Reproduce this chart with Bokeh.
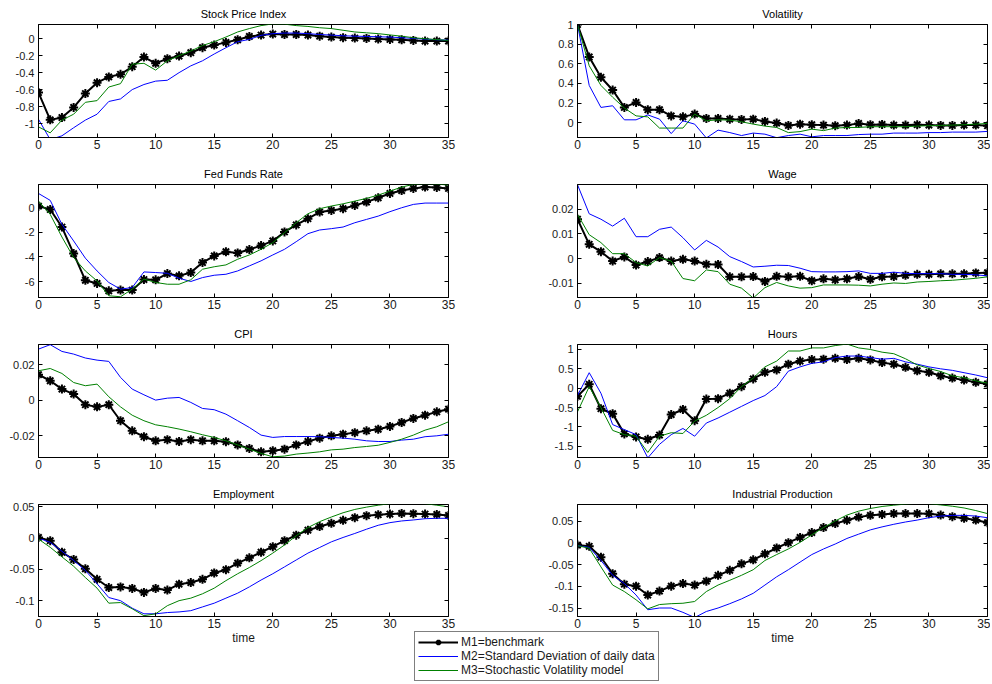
from bokeh.plotting import figure
from bokeh.layouts import column, row
from bokeh.models import Range1d, FixedTicker, LinearAxis, Legend, LegendItem
from bokeh.embed import file_html
from bokeh.resources import INLINE

# ---------------- data ----------------
t = list(range(36))
x_ticks = [0, 5, 10, 15, 20, 25, 30, 35]
x_tick_labels = ["0", "5", "10", "15", "20", "25", "30", "35"]

titles = ["Stock Price Index", "Volatility", "Fed Funds Rate", "Wage",
          "CPI", "Hours", "Employment", "Industrial Production"]
legend_labels = ["M1=benchmark", "M2=Standard Deviation of daily data",
                 "M3=Stochastic Volatility model"]
x_label = "time"

stock_m1 = [-0.635, -0.957, -0.93, -0.81, -0.647, -0.518, -0.45, -0.42, -0.33, -0.216, -0.29, -0.235,
            -0.204, -0.165, -0.106, -0.075, -0.043, -0.012, 0.027, 0.043, 0.055, 0.05, 0.05, 0.043,
            0.03, 0.02, 0.012, 0.008, 0.004, -0.004, -0.008, -0.012, -0.02, -0.027, -0.027, -0.027]
stock_m2 = [-0.95, -1.19, -1.145, -1.05, -0.96, -0.89, -0.74, -0.71, -0.6, -0.54, -0.5, -0.49,
            -0.4, -0.32, -0.26, -0.18, -0.106, -0.035, -0.008, 0.04, 0.06, 0.067, 0.067, 0.06,
            0.05, 0.043, 0.035, 0.03, 0.027, 0.023, 0.02, 0.012, 0.004, -0.004, -0.012, -0.016]
stock_m3 = [-1.04, -1.11, -0.96, -0.89, -0.75, -0.73, -0.57, -0.53, -0.30, -0.29, -0.37, -0.26,
            -0.2, -0.145, -0.08, -0.035, 0.02, 0.08, 0.12, 0.155, 0.175, 0.172, 0.155, 0.145,
            0.13, 0.12, 0.10, 0.08, 0.07, 0.06, 0.045, 0.03, 0.012, 0.0, -0.01, -0.02]

vol_m1 = [1.0, 0.67, 0.463, 0.333, 0.156, 0.207, 0.133, 0.133, 0.07, 0.06, 0.088, 0.044,
          0.044, 0.037, 0.034, 0.037, 0.014, -0.003, -0.027, -0.014, -0.02, -0.024, -0.03, -0.024,
          -0.007, -0.02, -0.017, -0.024, -0.024, -0.02, -0.024, -0.027, -0.027, -0.024, -0.024, -0.03]
vol_m2 = [1.0, 0.38, 0.156, 0.173, 0.03, 0.03, 0.08, 0.037, -0.11, 0.02, -0.014, -0.155,
          -0.075, -0.1, -0.13, -0.105, -0.116, -0.152, -0.13, -0.116, -0.143, -0.13, -0.13, -0.13,
          -0.12, -0.116, -0.116, -0.105, -0.105, -0.105, -0.1, -0.1, -0.095, -0.095, -0.095, -0.088]
vol_m3 = [1.0, 0.58, 0.38, 0.26, 0.15, 0.07, 0.06, -0.054, -0.054, -0.054, 0.088, 0.02,
          0.03, 0.027, 0.01, -0.014, -0.034, -0.048, -0.10, -0.09, -0.065, -0.08, -0.054, -0.048,
          -0.048, -0.04, -0.04, -0.04, -0.04, -0.034, -0.03, -0.027, -0.024, -0.02, -0.014, -0.007]

ffr_m1 = [0.13, -0.14, -1.57, -3.73, -5.9, -6.16, -6.76, -6.7, -6.7, -5.84, -5.86, -5.35,
          -5.54, -5.27, -4.46, -3.92, -3.57, -3.68, -3.4, -3.08, -2.7, -1.97, -1.4, -0.89,
          -0.35, -0.22, -0.08, 0.19, 0.46, 0.81, 1.16, 1.4, 1.57, 1.68, 1.65, 1.57]
ffr_m2 = [1.16, 0.6, -1.35, -2.7, -4.1, -5.14, -6.08, -6.62, -6.49, -5.22, -5.27, -5.33,
          -5.73, -6.0, -5.68, -5.49, -5.41, -5.14, -4.73, -4.32, -3.84, -3.38, -2.76, -2.11,
          -1.81, -1.7, -1.57, -1.22, -0.95, -0.68, -0.32, 0.0, 0.27, 0.38, 0.38, 0.38]
ffr_m3 = [0.54, -0.54, -2.38, -4.05, -5.14, -5.95, -7.16, -7.24, -6.62, -5.8, -6.08, -6.22,
          -6.22, -5.86, -5.0, -4.8, -4.65, -4.19, -3.84, -3.38, -2.84, -2.03, -1.22, -0.49,
          -0.08, 0.14, 0.32, 0.54, 0.76, 1.03, 1.35, 1.68, 1.9, 1.95, 1.92, 1.85]

wage_m1 = [0.016, 0.0058, 0.0028, -0.001, 0.0007, -0.0026, -0.0012, 0.0004, -0.001, -0.0003, -0.001, -0.0023,
           -0.0024, -0.0074, -0.0074, -0.0073, -0.0093, -0.0072, -0.0074, -0.0072, -0.009, -0.0082, -0.0086, -0.0082,
           -0.0073, -0.0084, -0.0074, -0.0073, -0.0068, -0.0064, -0.0064, -0.0062, -0.0062, -0.0062, -0.0058, -0.0057]
wage_m2 = [0.030, 0.0182, 0.016, 0.0132, 0.0164, 0.0089, 0.0089, 0.0119, 0.0128, 0.0085, 0.0035, 0.0074,
           0.0047, 0.0008, -0.0012, -0.0034, -0.0031, -0.0027, -0.0028, -0.0039, -0.0053, -0.0054, -0.0054, -0.0053,
           -0.005, -0.006, -0.006, -0.0055, -0.006, -0.0061, -0.0061, -0.0061, -0.0064, -0.0064, -0.0066, -0.007]
wage_m3 = [0.018, 0.0097, 0.0065, 0.002, 0.002, -0.0016, -0.003, 0.0004, -0.001, -0.0081, -0.009, -0.0046,
           -0.0053, -0.0104, -0.012, -0.0160, -0.0118, -0.0097, -0.0111, -0.012, -0.0118, -0.0107, -0.0107, -0.0107,
           -0.0108, -0.0111, -0.0104, -0.0099, -0.0101, -0.0095, -0.0093, -0.009, -0.0088, -0.0084, -0.008, -0.0074]

cpi_m1 = [0.0143, 0.0109, 0.0062, 0.0034, -0.0026, -0.0038, -0.0026, -0.0116, -0.0173, -0.0206, -0.0229, -0.0223,
          -0.0233, -0.0223, -0.0229, -0.0229, -0.0234, -0.0252, -0.0272, -0.0291, -0.0285, -0.0276, -0.0252, -0.0233,
          -0.0214, -0.0201, -0.0192, -0.0183, -0.0173, -0.0164, -0.0148, -0.0126, -0.0103, -0.0085, -0.0066, -0.0051]
cpi_m2 = [0.0287, 0.0312, 0.0274, 0.0259, 0.0237, 0.0225, 0.0218, 0.0128, 0.0062, 0.003, 0.0, 0.0011,
          0.0015, -0.0013, -0.0047, -0.0054, -0.0079, -0.0116, -0.0154, -0.0197, -0.021, -0.0205, -0.0205, -0.0205,
          -0.0206, -0.021, -0.0214, -0.022, -0.0229, -0.0233, -0.0233, -0.0225, -0.022, -0.0206, -0.0201, -0.0192]
cpi_m3 = [0.0165, 0.0178, 0.015, 0.0099, 0.0081, 0.009, 0.0019, -0.0038, -0.0085, -0.0116, -0.0139, -0.015,
          -0.0163, -0.0178, -0.0195, -0.021, -0.0229, -0.0252, -0.0276, -0.03, -0.0319, -0.0315, -0.0304, -0.0298,
          -0.0291, -0.028, -0.0276, -0.0267, -0.0261, -0.0254, -0.0238, -0.022, -0.0197, -0.0169, -0.015, -0.0122]

hours_m1 = [-0.21, 0.1, -0.53, -0.66, -1.18, -1.26, -1.32, -1.21, -0.68, -0.55, -0.84, -0.28,
            -0.27, -0.13, 0.04, 0.24, 0.41, 0.47, 0.62, 0.70, 0.74, 0.75, 0.77, 0.74,
            0.77, 0.73, 0.66, 0.62, 0.54, 0.45, 0.41, 0.32, 0.26, 0.21, 0.15, 0.11]
hours_m2 = [-0.19, 0.4, -0.13, -0.94, -1.07, -1.2, -1.8, -1.45, -1.2, -1.04, -1.24, -0.9,
            -0.77, -0.62, -0.47, -0.32, -0.19, 0.04, 0.44, 0.55, 0.64, 0.68, 0.79, 0.83,
            0.83, 0.79, 0.75, 0.77, 0.68, 0.62, 0.55, 0.5, 0.46, 0.4, 0.34, 0.27]
hours_m3 = [-0.61, 0.04, -0.5, -1.09, -1.2, -1.24, -1.66, -1.24, -1.15, -1.17, -0.85, -0.7,
            -0.5, -0.27, 0.04, 0.26, 0.55, 0.7, 0.96, 0.96, 1.04, 1.04, 1.1, 1.14,
            1.04, 1.0, 0.93, 0.89, 0.76, 0.6, 0.51, 0.43, 0.32, 0.27, 0.19, 0.13]

emp_m1 = [0.001, -0.0042, -0.0226, -0.0342, -0.049, -0.0658, -0.079, -0.078, -0.0805, -0.0868, -0.0805, -0.083,
          -0.0737, -0.071, -0.0658, -0.0558, -0.0505, -0.04, -0.0316, -0.0226, -0.0137, -0.0042, 0.0047, 0.0126,
          0.0184, 0.0237, 0.0284, 0.0326, 0.0358, 0.0374, 0.0384, 0.0395, 0.039, 0.0384, 0.0379, 0.0363]
emp_m2 = [0.0, -0.0068, -0.021, -0.0358, -0.0516, -0.073, -0.095, -0.1, -0.112, -0.121, -0.121, -0.119,
          -0.118, -0.116, -0.11, -0.104, -0.096, -0.088, -0.078, -0.067, -0.057, -0.046, -0.035, -0.024,
          -0.015, -0.006, 0.001, 0.0074, 0.0142, 0.0205, 0.0247, 0.0274, 0.029, 0.031, 0.0316, 0.0316]
emp_m3 = [-0.0016, -0.0147, -0.03, -0.045, -0.063, -0.08, -0.104, -0.103, -0.113, -0.124, -0.121, -0.108,
          -0.1, -0.096, -0.089, -0.08, -0.068, -0.057, -0.047, -0.036, -0.024, -0.011, 0.0037, 0.0168,
          0.0263, 0.0337, 0.0405, 0.0458, 0.0495, 0.0526, 0.055, 0.056, 0.056, 0.055, 0.0526, 0.05]

ip_m1 = [-0.0046, -0.0076, -0.0327, -0.0707, -0.095, -0.0996, -0.12, -0.111, -0.0996, -0.0935, -0.097, -0.088,
         -0.0745, -0.063, -0.048, -0.0388, -0.025, -0.0114, 0.0008, 0.0129, 0.0243, 0.0357, 0.0449, 0.0525,
         0.06, 0.0639, 0.066, 0.068, 0.068, 0.068, 0.0677, 0.0646, 0.0608, 0.057, 0.053, 0.047]
ip_m2 = [-0.006, -0.01, -0.04, -0.0745, -0.0935, -0.12, -0.154, -0.15, -0.15, -0.16, -0.172, -0.158,
         -0.15, -0.14, -0.129, -0.116, -0.097, -0.078, -0.0616, -0.044, -0.0266, -0.0137, -0.0023, 0.0106,
         0.0205, 0.0304, 0.0373, 0.0433, 0.0486, 0.053, 0.0585, 0.0623, 0.0639, 0.0639, 0.0623, 0.0585]
ip_m3 = [-0.006, -0.012, -0.055, -0.097, -0.112, -0.131, -0.152, -0.142, -0.14, -0.139, -0.135, -0.112,
         -0.097, -0.086, -0.0745, -0.0616, -0.0403, -0.0266, -0.0137, 0.0015, 0.019, 0.0357, 0.051, 0.0646,
         0.0737, 0.0798, 0.0844, 0.0874, 0.09, 0.092, 0.091, 0.088, 0.085, 0.081, 0.075, 0.068]

y_limits = [(-1.165, 0.168), (-0.15, 1.0), (-7.3, 1.89), (-0.0158, 0.0301),
            (-0.0323, 0.0313), (-1.79, 1.128), (-0.1253, 0.0537), (-0.1696, 0.089)]
y_ticks = [[-1, -0.8, -0.6, -0.4, -0.2, 0], [0, 0.2, 0.4, 0.6, 0.8, 1], [-6, -4, -2, 0],
           [-0.01, 0, 0.01, 0.02], [-0.02, 0, 0.02], [-1.5, -1, -0.5, 0, 0.5, 1],
           [-0.1, -0.05, 0, 0.05], [-0.15, -0.1, -0.05, 0, 0.05]]
y_tick_labels = [["-1", "-0.8", "-0.6", "-0.4", "-0.2", "0"], ["0", "0.2", "0.4", "0.6", "0.8", "1"],
                 ["-6", "-4", "-2", "0"], ["-0.01", "0", "0.01", "0.02"], ["-0.02", "0", "0.02"],
                 ["-1.5", "-1", "-0.5", "0", "0.5", "1"], ["-0.1", "-0.05", "0", "0.05"],
                 ["-0.15", "-0.1", "-0.05", "0", "0.05"]]

series = [(stock_m1, stock_m2, stock_m3), (vol_m1, vol_m2, vol_m3), (ffr_m1, ffr_m2, ffr_m3),
          (wage_m1, wage_m2, wage_m3), (cpi_m1, cpi_m2, cpi_m3), (hours_m1, hours_m2, hours_m3),
          (emp_m1, emp_m2, emp_m3), (ip_m1, ip_m2, ip_m3)]

# ---------------- styling ----------------
FONT = "Liberation Sans"
C1, C2, C3 = "black", "#0000ff", "#008000"
NAN = float("nan")


def make_panel(i):
    left = (i % 2 == 0)
    bottom = (i >= 6)
    width = 545 if left else 445
    height = 167 if bottom else 160
    p = figure(width=width, height=height, x_range=Range1d(0, 35), y_range=Range1d(*y_limits[i]),
               output_backend="svg", toolbar_location=None,
               min_border_left=(38 if left else 32), min_border_right=(97 if left else 3),
               min_border_top=24, min_border_bottom=(30 if bottom else 23))
    p.title.text = titles[i]
    p.title.align = "center"
    p.title.text_font = FONT
    p.title.text_font_size = "11px"
    p.title.text_font_style = "normal"
    p.title.text_color = "black"
    p.title.standoff = 10
    p.xgrid.visible = False
    p.ygrid.visible = False
    p.outline_line_color = "black"
    p.outline_line_alpha = 1.0

    m1, m2, m3 = series[i]
    p.line(t, m1, line_color=C1, line_width=2)
    p.scatter(t, m1, marker="asterisk", size=9, line_color=C1, line_width=2)
    p.line(t, m2, line_color=C2, line_width=1)
    p.line(t, m3, line_color=C3, line_width=1)

    xa = p.xaxis[0]
    xa.ticker = FixedTicker(ticks=x_ticks)
    xa.major_label_overrides = dict(zip(x_ticks, x_tick_labels))
    ya = p.yaxis[0]
    ya.ticker = FixedTicker(ticks=y_ticks[i])
    ya.major_label_overrides = dict(zip(y_ticks[i], y_tick_labels[i]))
    for ax, fs, so in ((xa, "12px", 2), (ya, "11px", 4)):
        ax.major_label_text_font = FONT
        ax.major_label_text_font_size = fs
        ax.major_label_text_color = "#1a1a1a"
        ax.major_label_standoff = so
        ax.major_tick_in = 4
        ax.major_tick_out = 0
        ax.minor_tick_line_color = None
        ax.axis_line_color = "black"
        ax.major_tick_line_color = "black"
    if bottom:
        xa.axis_label = x_label
        xa.axis_label_text_font = FONT
        xa.axis_label_text_font_size = "12px"
        xa.axis_label_text_font_style = "normal"
        xa.axis_label_text_color = "#1a1a1a"
        xa.axis_label_standoff = 0

    # mirrored tick marks on top and right (box style), no labels
    top_ax = LinearAxis(ticker=FixedTicker(ticks=x_ticks))
    right_ax = LinearAxis(ticker=FixedTicker(ticks=y_ticks[i]))
    for ax in (top_ax, right_ax):
        ax.major_label_text_color = None
        ax.major_label_standoff = 0
        ax.major_tick_in = 4
        ax.major_tick_out = 0
        ax.minor_tick_line_color = None
        ax.axis_line_color = None
        ax.major_tick_line_color = "black"
    p.add_layout(top_ax, "above")
    p.add_layout(right_ax, "right")
    return p


panels = [make_panel(i) for i in range(8)]

# ---------------- legend ----------------
leg = figure(width=260, height=53, output_backend="svg", toolbar_location=None,
             x_range=Range1d(0, 1), y_range=Range1d(0, 1),
             x_axis_type=None, y_axis_type=None, min_border=0,
             outline_line_color=None, background_fill_color=None, border_fill_color=None,
             margin=(-17, 0, 0, 413))
leg.xgrid.visible = False
leg.ygrid.visible = False
r1 = leg.line([NAN], [NAN], line_color=C1, line_width=2)
r1s = leg.scatter([NAN], [NAN], marker="asterisk", size=7, line_color=C1, line_width=2)
r2 = leg.line([NAN], [NAN], line_color=C2, line_width=1)
r3 = leg.line([NAN], [NAN], line_color=C3, line_width=1)
legend = Legend(items=[LegendItem(label=legend_labels[0], renderers=[r1, r1s]),
                       LegendItem(label=legend_labels[1], renderers=[r2]),
                       LegendItem(label=legend_labels[2], renderers=[r3])],
                location="top_left", margin=1, padding=3, spacing=0,
                glyph_width=40, glyph_height=14, label_height=14, label_standoff=3,
                label_text_font=FONT, label_text_font_size="12px", label_text_color="#1a1a1a",
                border_line_color="black", border_line_width=1,
                background_fill_color="white", background_fill_alpha=1.0)
leg.add_layout(legend)

layout = column(row(panels[0], panels[1]), row(panels[2], panels[3]),
                row(panels[4], panels[5]), row(panels[6], panels[7]), leg)

open("out.html", "w").write(file_html(layout, INLINE))
